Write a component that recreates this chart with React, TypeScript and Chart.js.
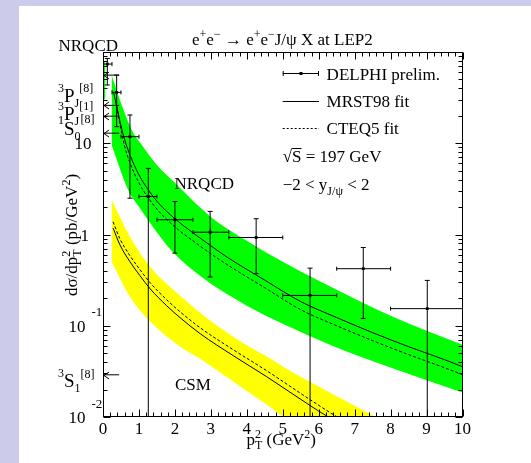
import React, { useEffect, useRef } from "react";
import { Chart, registerables } from "chart.js";

Chart.register(...registerables);

// ---------------- data ----------------
const xTickValues = [0, 1, 2, 3, 4, 5, 6, 7, 8, 9, 10];
const xTickLabels = ["0", "1", "2", "3", "4", "5", "6", "7", "8", "9", "10"];
const yLabelValues = [10, 1, 0.1, 0.01];
const yLabelMain = ["10", "1", "10", "10"];
const yLabelExp = ["", "", "-1", "-2"];

// DELPHI preliminary points
const delphiX = [0.12, 0.38, 0.75, 1.26, 2.0, 2.98, 4.26, 5.76, 7.24, 9.02];
const delphiY = [73.8, 36.1, 11.8, 2.61, 1.45, 1.06, 0.927, 0.215, 0.422, 0.154];
const delphiYHi = [85, 55.9, 20.4, 5.3, 2.3, 1.79, 1.49, 0.428, 0.72, 0.314];
const delphiYLo = [43.5, 15.2, 2.5, 0.001, 0.625, 0.342, 0.372, 0.001, 0.12, 0.001];
const delphiXLo = [0, 0.25, 0.5, 1, 1.5, 2.5, 3.5, 5, 6.5, 8];
const delphiXHi = [0.25, 0.5, 1, 1.5, 2.5, 3.5, 5, 6.5, 8, 10];

// NRQCD band (green)
const nrqcdSliverX = [0, 0.07];
const nrqcdSliverUp = [80, 76];
const nrqcdSliverLo = [31, 30];
const nrqcdUpX = [0.24, 0.5, 0.8, 1.12, 1.5, 2, 2.5, 3, 3.5, 4, 4.5, 5, 6, 7, 8, 9, 10];
const nrqcdUpY = [55.8, 27.6, 14.0, 9.12, 5.79, 3.68, 2.34, 1.56, 1.13, 0.854, 0.647, 0.503, 0.311, 0.198, 0.129, 0.0884, 0.0621];
const nrqcdLoX = [0.24, 0.7, 1.0, 1.31, 1.96, 2.7, 3.0, 3.53, 4.0, 5.0, 6.31, 7.24, 8.17, 10];
const nrqcdLoY = [9.58, 3.08, 2.01, 1.34, 0.631, 0.353, 0.289, 0.213, 0.166, 0.105, 0.0621, 0.0447, 0.033, 0.0185];

// NRQCD fits
const nrqcdMrstX = [0.3, 0.45, 0.58, 0.75, 1.0, 1.26, 1.54, 2.0, 2.5, 3.0, 3.5, 4.5, 5.5, 6.5, 7.5, 8.5, 9.5, 10];
const nrqcdMrstY = [35.5, 18.9, 11.7, 7.45, 4.5, 3.08, 2.22, 1.49, 1.045, 0.752, 0.549, 0.316, 0.184, 0.123, 0.084, 0.059, 0.0425, 0.0356];
const nrqcdCteqX = [0.36, 0.45, 0.6, 0.75, 1.0, 1.26, 1.54, 2.0, 2.5, 3.0, 3.5, 4.5, 5.5, 6.5, 7.5, 8.5, 9.5, 10];
const nrqcdCteqY = [29.0, 18.0, 9.33, 6.09, 3.68, 2.52, 1.82, 1.21, 0.854, 0.615, 0.455, 0.261, 0.15, 0.1, 0.0687, 0.0483, 0.0347, 0.0291];

// CSM band (yellow)
const csmUpX = [0.24, 0.75, 1.31, 2.05, 2.7, 3.62, 4.55, 5.48, 6.31, 7.56, 8.0];
const csmUpY = [2.4, 0.944, 0.443, 0.23, 0.139, 0.076, 0.0459, 0.0277, 0.0185, 0.0101, 0.00826];
const csmLoX = [0.24, 0.75, 1.26, 2.15, 2.7, 3.62, 4.55, 5.0, 6.0, 8.0];
const csmLoY = [0.503, 0.208, 0.1166, 0.059, 0.0436, 0.0245, 0.0137, 0.0101, 0.00568, 0.00207];

// CSM fits
const csmMrstX = [0.28, 0.47, 0.75, 1.03, 1.31, 1.77, 2.14, 2.7, 3.62, 4.55, 5.76, 6.25, 6.6];
const csmMrstY = [1.18, 0.771, 0.503, 0.353, 0.2545, 0.166, 0.123, 0.082, 0.0471, 0.0277, 0.01336, 0.0101, 0.0085];
const csmCteqX = [0.28, 0.47, 0.75, 1.03, 1.31, 1.77, 2.14, 2.7, 3.62, 4.55, 5.76, 6.5, 6.8];
const csmCteqY = [1.377, 0.898, 0.585, 0.411, 0.2965, 0.193, 0.1427, 0.0953, 0.0547, 0.0322, 0.0155, 0.0101, 0.0087];

// Octet-contribution arrows on the left axis
const arrowY = [55.8, 26, 19.8, 12.9, 0.029];
const arrowXStart = 0;
const arrowXEnd = 0.45;

// ---------------- styles ----------------
const LAVENDER = "#ccccea";
const GREEN = "#00ff00";
const YELLOW = "#ffff00";
const FONT = '"Liberation Serif", "Times New Roman", serif';
const font = (s: number) => `${s}px ${FONT}`;

const pts = (xs: number[], ys: number[]) => xs.map((x, i) => ({ x, y: ys[i] }));

type Part = [string, number, number, boolean?];
function drawParts(ctx: CanvasRenderingContext2D, x: number, y: number, parts: Part[], align: "left" | "center" | "right" = "left") {
  const w = parts.map((p) => {
    ctx.font = font(p[1]);
    return ctx.measureText(p[0]).width;
  });
  const pos: number[] = [];
  let cx = 0;
  let k = 0;
  while (k < parts.length) {
    if (parts[k][3] && k + 1 < parts.length) {
      pos[k] = cx;
      pos[k + 1] = cx;
      cx += Math.max(w[k], w[k + 1]);
      k += 2;
    } else {
      pos[k] = cx;
      cx += w[k];
      k++;
    }
  }
  const x0 = align === "left" ? x : align === "center" ? x - cx / 2 : x - cx;
  ctx.textAlign = "left";
  ctx.textBaseline = "alphabetic";
  parts.forEach((p, i) => {
    ctx.font = font(p[1]);
    ctx.fillText(p[0], x0 + pos[i], y + p[2]);
  });
  return { x0, width: cx, pos, w };
}

function buildDatasets() {
  const ds: any[] = [];
  const band = (xs: number[], ys: number[], color: string, fill: any) => ({
    data: pts(xs, ys),
    borderWidth: 0,
    borderColor: "rgba(0,0,0,0)",
    backgroundColor: color,
    pointRadius: 0,
    fill,
    cubicInterpolationMode: "monotone",
    order: 10,
    clip: 0,
  });
  ds.push(band(nrqcdSliverX, nrqcdSliverUp, GREEN, "+1"));
  ds.push(band(nrqcdSliverX, nrqcdSliverLo, GREEN, false));
  ds.push(band(nrqcdUpX, nrqcdUpY, GREEN, "+1"));
  ds.push(band(nrqcdLoX, nrqcdLoY, GREEN, false));
  ds.push(band(csmUpX, csmUpY, YELLOW, "+1"));
  ds.push(band(csmLoX, csmLoY, YELLOW, false));

  const curve = (xs: number[], ys: number[], dash: number[]) => ({
    data: pts(xs, ys),
    borderColor: "#000",
    borderWidth: 1,
    borderDash: dash,
    pointRadius: 0,
    fill: false,
    cubicInterpolationMode: "monotone",
    order: 5,
    clip: 0,
  });
  ds.push(curve(nrqcdMrstX, nrqcdMrstY, []));
  ds.push(curve(nrqcdCteqX, nrqcdCteqY, [3, 2]));
  ds.push(curve(csmMrstX, csmMrstY, []));
  ds.push(curve(csmCteqX, csmCteqY, [3, 2]));

  arrowY.forEach((v) => {
    ds.push({
      data: [
        { x: arrowXStart, y: v },
        { x: arrowXEnd, y: v },
      ],
      borderColor: "#000",
      borderWidth: 1,
      pointRadius: 0,
      fill: false,
      order: 3,
      clip: 0,
    });
  });

  delphiX.forEach((x, i) => {
    ds.push({
      data: [
        { x, y: delphiYLo[i] },
        { x, y: delphiYHi[i] },
      ],
      borderColor: "#000",
      borderWidth: 1,
      pointStyle: "line",
      pointRadius: 2.5,
      pointBorderColor: "#000",
      pointBorderWidth: 1,
      fill: false,
      order: 2,
      clip: 0,
    });
    ds.push({
      data: [
        { x: delphiXLo[i], y: delphiY[i] },
        { x: delphiXHi[i], y: delphiY[i] },
      ],
      borderColor: "#000",
      borderWidth: 1,
      pointStyle: "line",
      pointRotation: 90,
      pointRadius: 2,
      pointBorderColor: "#000",
      pointBorderWidth: 1,
      fill: false,
      order: 2,
      clip: 0,
    });
  });

  ds.push({
    data: pts(delphiX, delphiY),
    showLine: false,
    pointStyle: "rect",
    pointRadius: 2,
    pointBackgroundColor: "#000",
    pointBorderColor: "#000",
    pointBorderWidth: 0,
    order: 0,
    clip: 0,
  });
  return ds;
}

const deco = {
  id: "deco",
  beforeDraw(chart: any) {
    const ctx = chart.ctx as CanvasRenderingContext2D;
    ctx.save();
    ctx.fillStyle = LAVENDER;
    ctx.fillRect(0, 0, chart.width, chart.height);
    ctx.fillStyle = "#ffffff";
    ctx.fillRect(19, 6, chart.width - 19, chart.height - 6);
    ctx.restore();
  },
  afterDatasetsDraw(chart: any) {
    const ctx = chart.ctx as CanvasRenderingContext2D;
    const a = chart.chartArea;
    const xs = chart.scales.x;
    const ys = chart.scales.y;
    ctx.save();
    ctx.strokeStyle = "#000";
    ctx.fillStyle = "#000";
    ctx.lineWidth = 1;
    ctx.setLineDash([]);

    // arrow heads
    arrowY.forEach((v) => {
      const px = xs.getPixelForValue(arrowXStart) + 1;
      const py = Math.round(ys.getPixelForValue(v)) + 0.5;
      ctx.beginPath();
      ctx.moveTo(px + 5, py - 3.5);
      ctx.lineTo(px, py);
      ctx.lineTo(px + 5, py + 3.5);
      ctx.stroke();
    });

    // frame
    const L = Math.round(a.left) + 0.5;
    const R = Math.round(a.right) - 0.5;
    const T = Math.round(a.top) + 0.5;
    const B = Math.round(a.bottom) - 0.5;
    ctx.strokeRect(L, T, R - L, B - T);

    // x ticks (inside, bottom and top)
    ctx.beginPath();
    for (let k = 0; k <= 50; k++) {
      const v = k * 0.2;
      const px = Math.round(xs.getPixelForValue(v)) + 0.5;
      const len = k % 5 === 0 ? 7 : 4;
      ctx.moveTo(px, B);
      ctx.lineTo(px, B - len);
      ctx.moveTo(px, T);
      ctx.lineTo(px, T + len);
    }
    // y ticks (log, inside, left and right)
    [0.01, 0.1, 1, 10].forEach((d) => {
      for (let m = 1; m <= 9; m++) {
        const py = Math.round(ys.getPixelForValue(d * m)) + 0.5;
        const len = m === 1 ? 7 : 4;
        ctx.moveTo(L, py);
        ctx.lineTo(L + len, py);
        ctx.moveTo(R, py);
        ctx.lineTo(R - len, py);
      }
    });
    ctx.stroke();

    // x tick labels
    ctx.font = font(17);
    ctx.textAlign = "center";
    ctx.textBaseline = "alphabetic";
    xTickValues.forEach((v, i) => {
      ctx.fillText(xTickLabels[i], xs.getPixelForValue(v), B + 17);
    });

    // y tick labels
    yLabelValues.forEach((v, i) => {
      const py = ys.getPixelForValue(v);
      ctx.font = font(17);
      ctx.textAlign = "right";
      if (yLabelExp[i]) {
        ctx.fillText(yLabelMain[i], 85.5, py + 6);
        ctx.font = font(13);
        ctx.textAlign = "left";
        ctx.fillText(yLabelExp[i], 91.5, py - 9.5);
      } else {
        ctx.fillText(yLabelMain[i], yLabelMain[i].length > 1 ? 91.5 : 89, py + 6);
      }
    });

    // axis titles
    drawParts(ctx, 246.5, 445, [
      ["p", 17, 0],
      ["2", 12, -7, true],
      ["T", 12, 4],
      [" (GeV", 17, 0],
      ["2", 12, -7],
      [")", 17, 0],
    ]);
    ctx.save();
    ctx.translate(77, 235);
    ctx.rotate(-Math.PI / 2);
    drawParts(
      ctx,
      0,
      0,
      [
        ["d\u03c3/dp", 17, 0],
        ["2", 12, -7, true],
        ["T", 12, 4],
        [" (pb/GeV", 17, 0],
        ["2", 12, -7],
        [")", 17, 0],
      ],
      "center"
    );
    ctx.restore();

    // title
    drawParts(ctx, 192, 45, [
      ["e", 17, 0],
      ["+", 12, -7],
      ["e", 17, 0],
      ["\u2212", 12, -7],
      [" \u2192 e", 17, 0],
      ["+", 12, -7],
      ["e", 17, 0],
      ["\u2212", 12, -7],
      ["J/\u03c8 X at LEP2", 17, 0],
    ]);

    // corner label
    drawParts(ctx, 58.5, 50.5, [["NRQCD", 17, 0]]);

    // octet labels
    drawParts(ctx, 58, 101.7, [["3", 12, -10], ["P", 19, 0], ["J", 12, 5], ["[8]", 12, -10]]);
    drawParts(ctx, 58, 120, [["3", 12, -10], ["P", 19, 0], ["J", 12, 5], ["[1]", 12, -10]]);
    drawParts(ctx, 58, 135, [["1", 12, -11], ["S", 19, 0], ["0", 12, 5], ["[8]", 12, -12]]);
    drawParts(ctx, 58, 387, [["3", 12, -10], ["S", 19, 0], ["1", 12, 4.5], ["[8]", 12, -9]]);

    // in-plot labels
    drawParts(ctx, 174.5, 188.5, [["NRQCD", 17, 0]]);
    drawParts(ctx, 175, 390, [["CSM", 17, 0]]);

    // legend
    const lx0 = 282.7;
    const lx1 = 319;
    const ly1 = 73.5;
    ctx.beginPath();
    ctx.moveTo(lx0, ly1);
    ctx.lineTo(lx1, ly1);
    ctx.moveTo(lx0 + 0.5, ly1 - 2.5);
    ctx.lineTo(lx0 + 0.5, ly1 + 2.5);
    ctx.moveTo(lx1 - 0.5, ly1 - 2.5);
    ctx.lineTo(lx1 - 0.5, ly1 + 2.5);
    ctx.moveTo(lx0, 101.5);
    ctx.lineTo(lx1, 101.5);
    ctx.stroke();
    ctx.fillRect(299.5, ly1 - 1.5, 3, 3);
    ctx.setLineDash([2, 2]);
    ctx.beginPath();
    ctx.moveTo(lx0, 128.5);
    ctx.lineTo(lx1, 128.5);
    ctx.stroke();
    ctx.setLineDash([]);
    drawParts(ctx, 326.6, 79.5, [["DELPHI prelim.", 17, 0]]);
    drawParts(ctx, 326.6, 107, [["MRST98 fit", 17, 0]]);
    drawParts(ctx, 326.6, 134, [["CTEQ5 fit", 17, 0]]);
    const r = drawParts(ctx, lx0, 162, [["\u221a", 17, 0], ["S", 17, 0], [" = 197 GeV", 17, 0]]);
    ctx.beginPath();
    ctx.moveTo(r.x0 + r.pos[1], 162 - 13.5);
    ctx.lineTo(r.x0 + r.pos[1] + r.w[1], 162 - 13.5);
    ctx.stroke();
    drawParts(ctx, lx0, 190, [["\u22122 < y", 17, 0], ["J/\u03c8", 12, 5], [" < 2", 17, 0]]);

    ctx.restore();
  },
};

export default function App() {
  const ref = useRef<HTMLCanvasElement | null>(null);
  useEffect(() => {
    const c = ref.current;
    if (!c) return;
    const chart = new Chart(c, {
      type: "line",
      data: { datasets: buildDatasets() },
      options: {
        animation: false,
        responsive: false,
        devicePixelRatio: 1,
        events: [],
        layout: { padding: { left: 103, right: 68.5, top: 52, bottom: 46 } },
        scales: {
          x: { type: "linear", min: 0, max: 10, display: false },
          y: { type: "logarithmic", min: 0.01, max: 100, display: false },
        },
        plugins: {
          legend: { display: false },
          tooltip: { enabled: false },
          title: { display: false },
        },
      } as any,
      plugins: [deco as any],
    });
    return () => chart.destroy();
  }, []);
  return (
    <div style={{ position: "fixed", left: 0, top: 0, width: 531, height: 463 }}>
      <canvas ref={ref} width={531} height={463} style={{ display: "block" }} />
    </div>
  );
}
